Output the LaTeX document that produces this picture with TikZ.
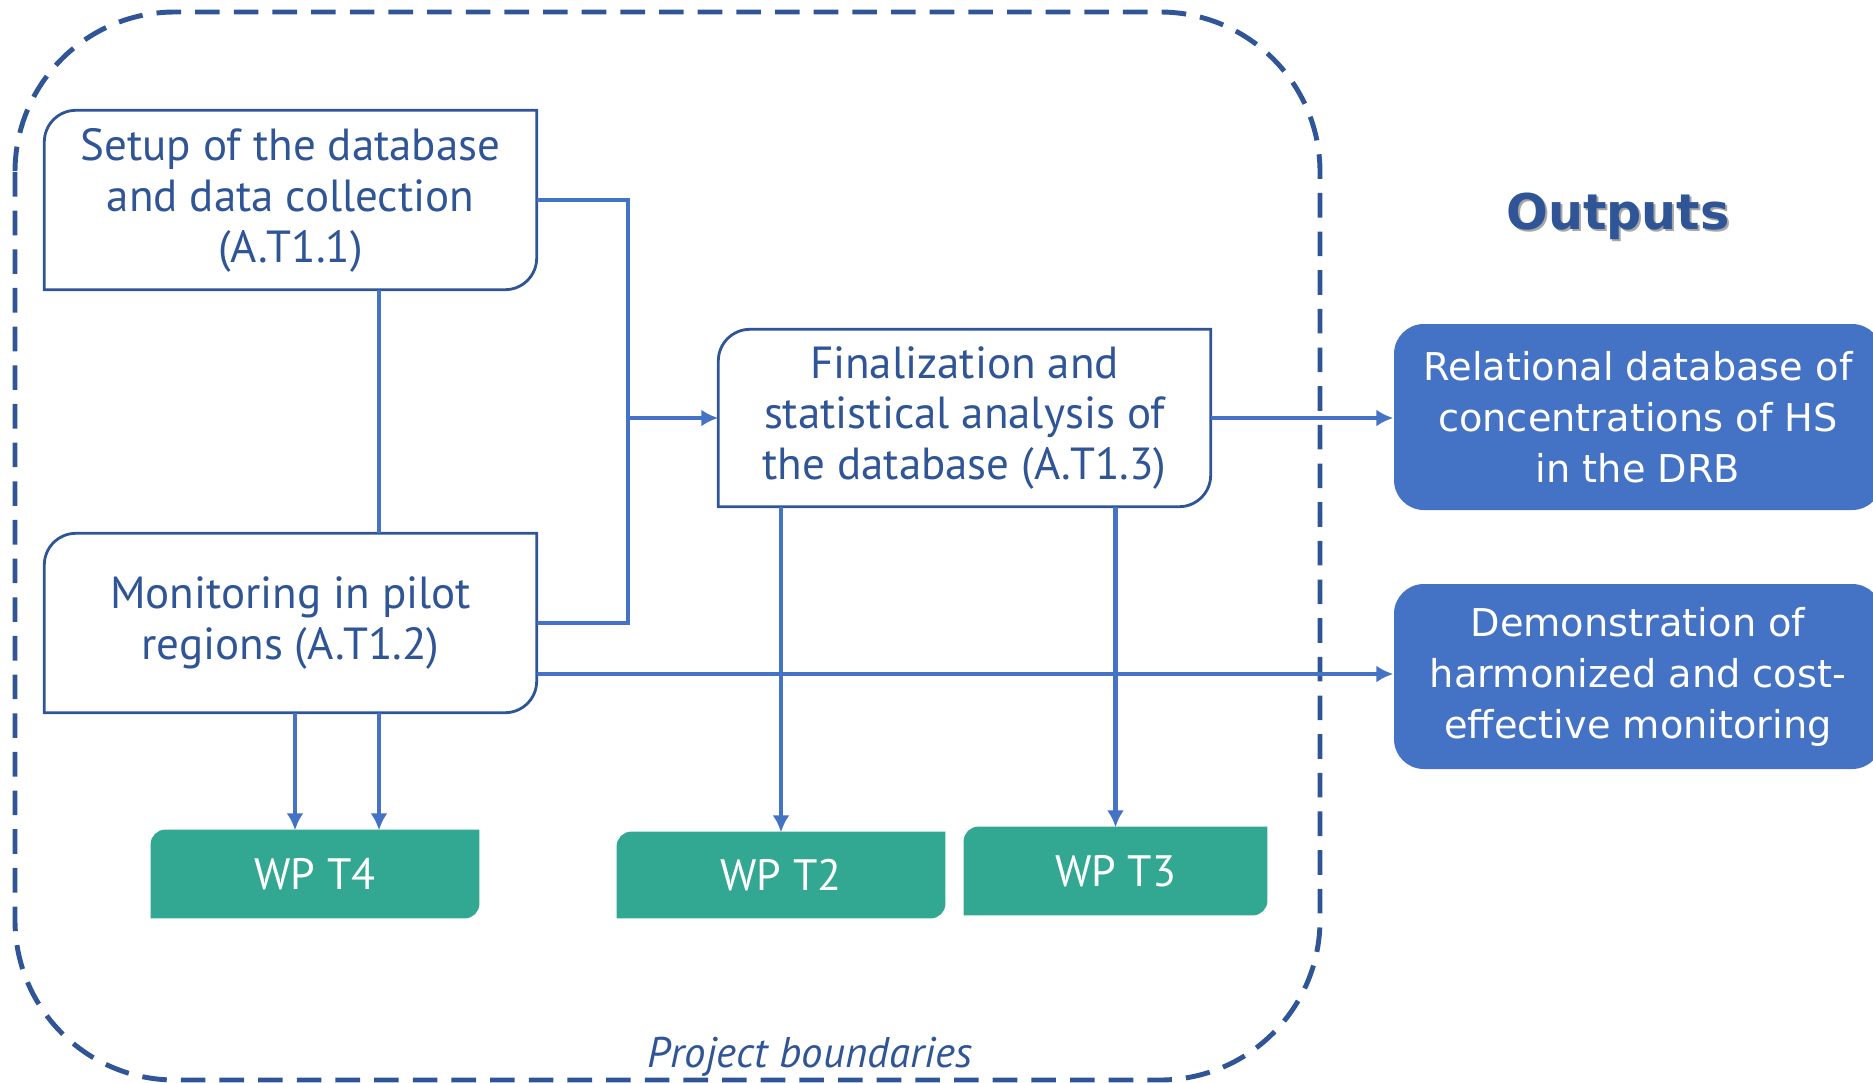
\documentclass[tikz,border=0pt]{standalone}
\usepackage{fontspec}
\setmainfont{PT Sans}
\newfontfamily\outfont{DejaVu Sans}
\usetikzlibrary{arrows.meta,backgrounds}
\definecolor{frameblue}{RGB}{47,85,151}
\definecolor{linkblue}{RGB}{68,114,196}
\definecolor{wpgreen}{RGB}{50,168,147}
\def\cornerbox[#1](#2)(#3){\draw[#1] (#2.south west) -- ([yshift=-#3]#2.north west) arc[start angle=180,end angle=90,radius=#3] -- (#2.north east) -- ([yshift=#3]#2.south east) arc[start angle=0,end angle=-90,radius=#3] -- cycle;}

\begin{document}
\begin{tikzpicture}[
		task/.style={minimum width=4.91cm, minimum height=1.78cm, inner ysep=0pt, align=center, text=frameblue, font=\fontsize{12.8}{14.5}\selectfont, execute at begin node={\rule{0pt}{5.6mm}}},
		wp/.style={minimum width=3.26cm, minimum height=0.86cm, text=white, font=\fontsize{12.5}{15}\selectfont},
		output/.style={fill=linkblue, rounded corners=8.5pt, minimum width=4.88cm, minimum height=1.86cm, align=center, text=white, font=\outfont\fontsize{10.9}{14.5}\selectfont},
		title/.style={font=\outfont\bfseries\fontsize{14}{16}\selectfont},
		link/.style={linkblue, line width=1.3pt},
		arrow/.style={link, -{Latex[length=4.8pt,width=4.8pt]}},
		boundary/.style={frameblue, line width=1.4pt, dash pattern=on 7pt off 4pt, rounded corners=1.6cm}
	]
		%%%%% START %%%%%
		\useasboundingbox (0, 0) rectangle (18.73, -10.82);
		\draw[boundary] (0.15, -0.12) rectangle (13.20, -10.80);
		
		\node[task] (setup) at (2.905, -2.00) {Setup of the database\\and data collection\\(A.T1.1)};
		\node[task] (monit) at (2.905, -6.23) {Monitoring in pilot\\regions (A.T1.2)};
		\node[task, minimum height=1.76cm] (final) at (9.645, -4.18) {Finalization and\\statistical analysis of\\the database (A.T1.3)};
		
		\node[wp] (wp4) at (3.15, -8.74) {WP T4};
		\node[wp, minimum height=0.84cm] (wp2) at (7.81, -8.75) {WP T2};
		\node[wp, minimum width=3.01cm] (wp3) at (11.155, -8.71) {WP T3};
		
		\node[output] (out1) at (16.38, -4.17) {Relational database of\\concentrations of HS\\in the DRB};
		\node[output, minimum height=1.85cm] (out2) at (16.38, -6.765) {Demonstration of\\harmonized and cost-\\effective monitoring};
		
		\node[title, text=black!35] at (16.20, -2.18) {Outputs};
		\node[title, text=frameblue] (outtitle) at (16.18, -2.16) {Outputs};
		\node[font=\itshape\fontsize{12.2}{14}\selectfont, text=frameblue] (bound) at (8.10, -10.57) {Project boundaries};
		
		\begin{scope}[on background layer]
			\cornerbox[frameblue, line width=0.8pt, fill=white](setup)(9pt)
			\cornerbox[frameblue, line width=0.8pt, fill=white](monit)(9pt)
			\cornerbox[frameblue, line width=0.8pt, fill=white](final)(9pt)
			\cornerbox[wpgreen, fill=wpgreen](wp4)(4pt)
			\cornerbox[wpgreen, fill=wpgreen](wp2)(4pt)
			\cornerbox[wpgreen, fill=wpgreen](wp3)(4pt)
		\end{scope}
		
		\coordinate (bus) at (6.28, -4.18);
		\draw[link] (setup.east) -| (bus) |- (monit.east);
		\draw[arrow] (bus) -- (final.west);
		\draw[link] ([xshift=0.885cm]setup.south) -- ([xshift=0.885cm]monit.north);
		
		\draw[arrow] ([xshift=0.045cm]monit.south) -- ([xshift=0.045cm]monit.south |- wp4.north);
		\draw[arrow] ([xshift=0.885cm]monit.south) -- ([xshift=0.885cm]monit.south |- wp4.north);
		\draw[arrow] (final.south -| wp2.north) -- (wp2.north);
		\draw[arrow] (final.south -| wp3.north) -- (wp3.north);
		
		\draw[arrow] (final.east) -- (final.east -| out1.west);
		\draw[arrow] ([yshift=-0.51cm]monit.east) -- ([yshift=-0.51cm]monit.east -| out2.west);
		%%%%% END %%%%%
	\end{tikzpicture}
\end{document}
